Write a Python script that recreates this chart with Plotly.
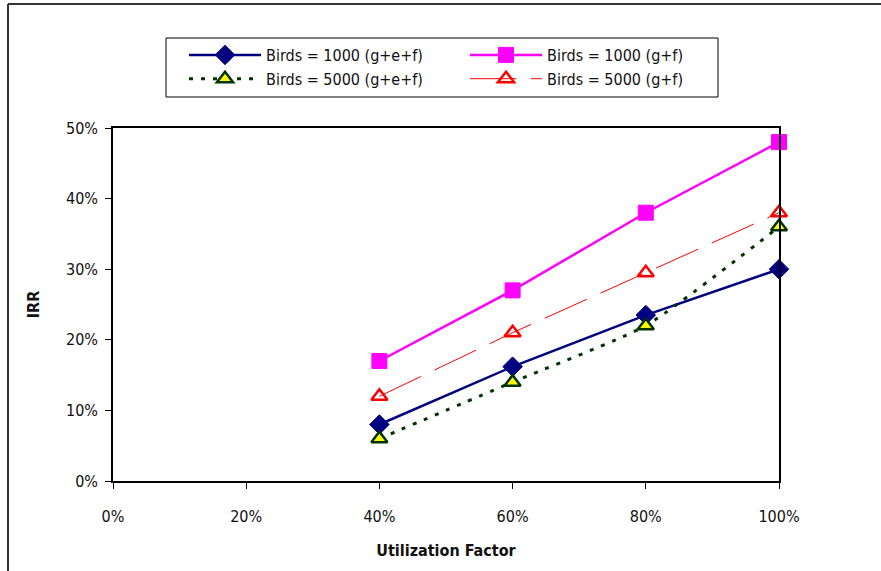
import plotly.graph_objects as go

# Utilization factor (x) and IRR (y) for each scenario
utilization = [0.4, 0.6, 0.8, 1.0]
irr_1000_gef = [0.08, 0.162, 0.235, 0.30]
irr_1000_gf = [0.17, 0.27, 0.38, 0.48]
irr_5000_gef = [0.06, 0.14, 0.22, 0.36]
irr_5000_gf = [0.12, 0.21, 0.295, 0.38]

names = [
    "Birds = 1000 (g+e+f)",
    "Birds = 1000 (g+f)",
    "Birds = 5000 (g+e+f)",
    "Birds = 5000 (g+f)",
]

FONT = "Liberation Sans Narrow, Arial Narrow, DejaVu Sans Condensed, sans-serif"

fig = go.Figure()

fig.add_trace(go.Scatter(
    x=utilization, y=irr_1000_gef, name=names[0], mode="lines+markers",
    line=dict(color="#000080", width=2.5),
    marker=dict(symbol="diamond", size=15, color="#000080",
                line=dict(color="#000080", width=1)),
    cliponaxis=False,
))
fig.add_trace(go.Scatter(
    x=utilization, y=irr_1000_gf, name=names[1], mode="lines+markers",
    line=dict(color="#FF00FF", width=2.5),
    marker=dict(symbol="square", size=15, color="#FF00FF",
                line=dict(color="#FF00FF", width=1)),
    cliponaxis=False,
))
fig.add_trace(go.Scatter(
    x=utilization, y=irr_5000_gef, name=names[2], mode="lines+markers",
    line=dict(color="#003300", width=3, dash="4px,8px", shape="spline", smoothing=0.5),
    marker=dict(symbol="triangle-up", size=14, color="#FFFF00",
                line=dict(color="#003300", width=2.5)),
    cliponaxis=False,
))
fig.add_trace(go.Scatter(
    x=utilization, y=irr_5000_gf, name=names[3], mode="lines+markers",
    line=dict(color="#FF0000", width=1, dash="46px,15px"),
    marker=dict(symbol="triangle-up-open", size=14, color="#FF0000",
                line=dict(color="#FF0000", width=2.5)),
    cliponaxis=False,
))

L, R, T, B = 113, 779, 128, 481
W, H = 881, 571
pw, ph = R - L, B - T


def px_x(x):
    return (x - L) / pw


def px_y(y):
    return (B - y) / ph


fig.update_layout(
    width=W, height=H,
    margin=dict(l=L, r=W - R, t=T, b=H - B),
    paper_bgcolor="white", plot_bgcolor="white",
    font=dict(family=FONT, size=16, color="#111111"),
    showlegend=True,
    legend=dict(
        orientation="h",
        x=px_x(184), y=px_y(38), xanchor="left", yanchor="top",
        borderwidth=0, bgcolor="rgba(0,0,0,0)",
        itemwidth=72, entrywidth=194, entrywidthmode="pixels",
        font=dict(family=FONT, size=16, color="#111111"),
        traceorder="normal",
    ),
    xaxis=dict(
        range=[0, 1], tickvals=[0, 0.2, 0.4, 0.6, 0.8, 1.0], tickformat=".0%",
        showgrid=False, zeroline=False,
        showline=True, linecolor="#000000", linewidth=1.5, mirror=True,
        ticks="outside", ticklen=6, tickcolor="#000000", tickwidth=1,
        ticklabelstandoff=14,
        title=dict(text="<b>Utilization Factor</b>", standoff=20,
                   font=dict(family=FONT, size=16)),
    ),
    yaxis=dict(
        range=[0, 0.5], tickvals=[0, 0.1, 0.2, 0.3, 0.4, 0.5], tickformat=".0%",
        showgrid=False, zeroline=False,
        showline=True, linecolor="#000000", linewidth=1.5, mirror=True,
        ticks="outside", ticklen=6, tickcolor="#000000", tickwidth=1,
        ticklabelstandoff=4,
        title=dict(text="<b>IRR</b>", standoff=22,
                   font=dict(family=FONT, size=16)),
    ),
)

# Legend frame
fig.add_shape(type="rect", xref="paper", yref="paper", layer="below",
              x0=px_x(166), x1=px_x(718), y0=px_y(38), y1=px_y(97),
              line=dict(color="#000000", width=1), fillcolor="white")

# Chart-area frame on the left and top edges
fig.add_shape(type="line", xref="paper", yref="paper",
              x0=px_x(8), x1=px_x(8), y0=px_y(4), y1=px_y(600),
              line=dict(color="#333333", width=2))
fig.add_shape(type="line", xref="paper", yref="paper",
              x0=px_x(8), x1=px_x(900), y0=px_y(4), y1=px_y(4),
              line=dict(color="#333333", width=2))

fig.write_html("out.html")
